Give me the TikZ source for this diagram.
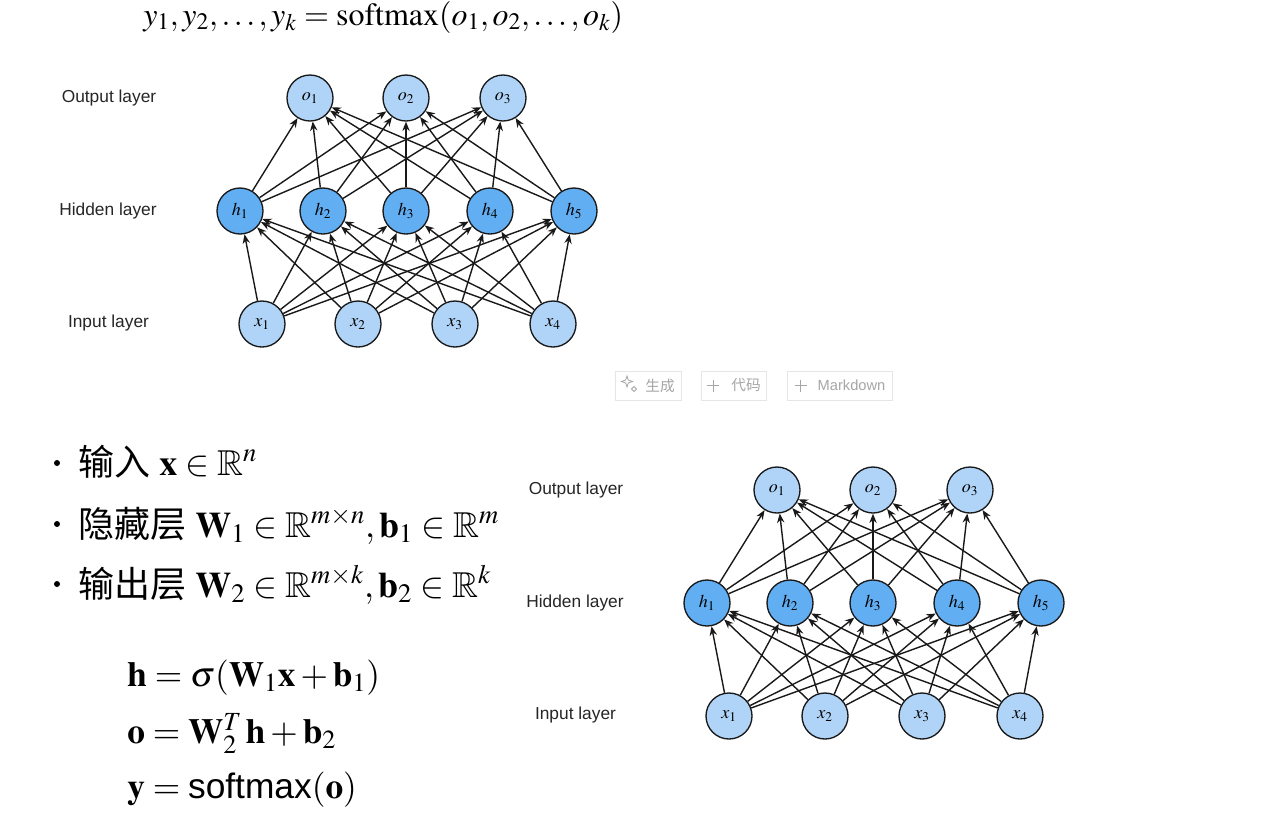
\documentclass[tikz,border=0pt]{standalone}
\usepackage{mathptmx}
\usepackage{amssymb}
\usepackage{fontspec}
\setmainfont{Liberation Serif}
\setsansfont{Liberation Sans}
\newfontfamily\cjk{Noto Sans CJK SC}
\usetikzlibrary{arrows.meta}
\definecolor{lightnode}{HTML}{B0D4F8}
\definecolor{hidnode}{HTML}{62AEF2}
\definecolor{btngray}{HTML}{A6A6A6}
\definecolor{btnline}{HTML}{E6E6E6}
\tikzset{
  lay/.style={font=\sffamily\fontsize{13}{15}\selectfont, text=black!85, inner sep=0pt},
  neuron/.style={circle, draw=black!90, line width=1pt, minimum size=34.5pt, inner sep=0pt, font=\fontsize{13.5}{15}\selectfont},
  onode/.style={neuron, fill=lightnode},
  hnode/.style={neuron, fill=hidnode},
  conn/.style={-{Stealth[length=7pt,width=5.5pt]}, line width=1.05pt, black!90},
  btn/.style={draw=btnline, line width=0.7pt, minimum height=21.75pt, inner sep=0pt},
  btntext/.style={text=btngray, font=\sffamily\fontsize{11}{13}\selectfont, inner sep=0pt},
  bigtext/.style={font=\fontsize{24}{28}\selectfont, inner sep=0pt, anchor=base west},
  bullettext/.style={font=\fontsize{27}{30}\selectfont, inner sep=0pt, anchor=base west},
  eqtext/.style={font=\fontsize{26.5}{30}\selectfont, inner sep=0pt, anchor=base west},
}
\newcommand{\netdraw}[1]{%
  \node[lay] (#1lo) at (109,98) {Output layer};
  \node[lay] (#1lh) at (108,211) {Hidden layer};
  \node[lay] (#1li) at (108.5,323) {Input layer};
  \foreach \i/\x in {1/310,2/406,3/503} \node[onode] (#1o\i) at (\x,98) {$o_{\i}$};
  \foreach \i/\x in {1/240,2/323,3/406,4/490,5/574} \node[hnode] (#1h\i) at (\x,211) {$h_{\i}$};
  \foreach \i/\x in {1/262,2/358,3/455,4/553} \node[onode] (#1x\i) at (\x,324) {$x_{\i}$};
  \foreach \i in {1,...,5} \foreach \j in {1,2,3} \draw[conn] (#1h\i) -- (#1o\j);
  \foreach \i in {1,...,4} \foreach \j in {1,...,5} \draw[conn] (#1x\i) -- (#1h\j);
}
\begin{document}
\begin{tikzpicture}[x=0.75pt,y=-0.75pt]
\useasboundingbox[fill=white] (0,0) rectangle (1274,822);

% top formula
\node[bigtext] (topf) at (143,25) {$y_1, y_2, \ldots, y_k = \mathrm{softmax}(o_1, o_2, \ldots, o_k)$};

% networks
\netdraw{a}
\begin{scope}[shift={(467,392)}]
\netdraw{b}
\end{scope}

% buttons
\node[btn, minimum width=49.5pt] (b1) at (648,385.5) {};
\node[btn, minimum width=48.75pt] (b2) at (733.5,385.5) {};
\node[btn, minimum width=78.75pt] (b3) at (839.5,385.5) {};
\node[btntext] (t1) at (660,385.5) {\cjk 生成};
\node[btntext] (t2) at (746,385.5) {\cjk 代码};
\node[btntext] (t3) at (851.5,385.5) {Markdown};
\draw[btngray, line width=0.6pt] (627,376) -- (628.3,380) -- (632.5,381.5) -- (628.3,383) -- (627,387) -- (625.7,383) -- (621.5,381.5) -- (625.7,380) -- cycle;
\draw[btngray, line width=0.6pt] (634,386.5) -- (636.5,389) -- (634,391.5) -- (631.5,389) -- cycle;
\draw[btngray, line width=0.7pt] (707,385.5) -- (719,385.5) (713,379.5) -- (713,391.5);
\draw[btngray, line width=0.7pt] (794.5,385.5) -- (806.5,385.5) (800.5,379.5) -- (800.5,391.5);

% bullets
\foreach \n/\y in {1/463,2/524,3/584} \fill (57,\y) circle[radius=3] coordinate (dot\n);
\node[bullettext] (l1) at (78,475) {{\cjk 输入} $\mathbf{x} \in \mathbb{R}^n$};
\node[bullettext] (l2) at (78,537) {{\cjk 隐藏层} $\mathbf{W}_1 \in \mathbb{R}^{m\times n}, \mathbf{b}_1 \in \mathbb{R}^m$};
\node[bullettext] (l3) at (78,597) {{\cjk 输出层} $\mathbf{W}_2 \in \mathbb{R}^{m\times k}, \mathbf{b}_2 \in \mathbb{R}^k$};

% equations
\node[eqtext] (e1) at (127,686) {$\mathbf{h} = \sigma(\mathbf{W}_1\mathbf{x} + \mathbf{b}_1)$};
\node[eqtext] (e2) at (127,743) {$\mathbf{o} = \mathbf{W}_2^T\,\mathbf{h} + \mathbf{b}_2$};
\node[eqtext] (e3) at (127,798) {$\mathbf{y} = \mbox{\sffamily softmax}(\mathbf{o})$};
\end{tikzpicture}
\end{document}
